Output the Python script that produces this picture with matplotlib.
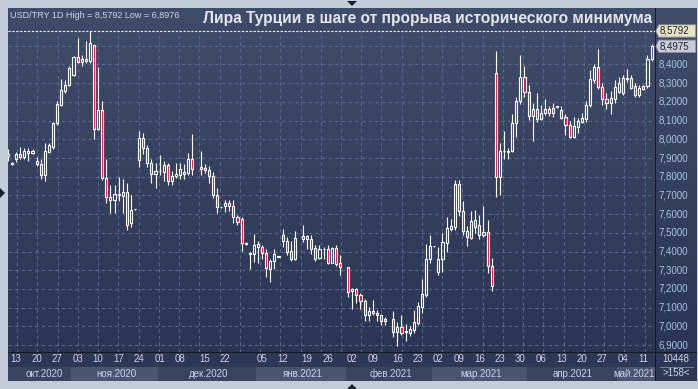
import numpy as np
import matplotlib
matplotlib.use("Agg")
import matplotlib.pyplot as plt
from matplotlib.patches import Polygon, Rectangle

# daily USD/TRY candles, one slot per trading day (None = empty slot)
opens = [7.920, 7.875, 7.893, 7.922, 7.907, 7.936, 7.925, 7.882, 7.868, 7.811,
         7.932, 7.961, 8.086, 8.185, 8.260, 8.289, 8.344, 8.440, 8.414, 8.430,
         8.417, 8.503, 8.053, 8.155, 7.795, 7.693, 7.676, 7.703, 7.697, 7.718,
         7.551, 7.626, 7.888, 8.005, 7.952, 7.872, 7.815, 7.829, 7.825, 7.861,
         7.775, 7.804, 7.811, 7.816, 7.822, 7.893, None, 7.851, 7.847, 7.836,
         7.804, 7.704, 7.636, 7.645, 7.658, 7.643, 7.583, 7.574, 7.442, 7.387,
         7.387, 7.440, 7.422, 7.390, 7.308, 7.348, 7.373, 7.487, 7.455, 7.401,
         7.362, None, 7.469, 7.483, 7.465, 7.419, 7.365, 7.412, 7.412, 7.340,
         7.419, 7.337, None, 7.316, 7.187, 7.198, 7.166, 7.137, 7.059, 7.080,
         7.070, 7.059, 7.027, None, 7.037, 6.995, 6.995, 6.970, 6.966, 6.980,
         7.020, 7.105, 7.166, 7.358, 7.428, 7.291, 7.358, 7.448, 7.522, 7.533,
         7.759, 7.615, 7.508, 7.472, 7.569, 7.540, 7.490, 7.504, 7.323, 8.357,
         7.800, 7.936, 7.932, 7.939, 8.089, 8.207, 8.335, 8.253, 8.125, 8.164,
         8.111, 8.143, 8.160, 8.139, 8.171, 8.157, 8.118, 8.078, 8.014, 8.068,
         8.093, 8.111, 8.182, 8.317, 8.389, 8.282, 8.217, 8.196, 8.217, 8.299,
         8.250, 8.324, 8.328, 8.285, 8.239, 8.271, 8.285, 8.431]
highs = [7.947, 7.878, 7.932, 7.957, 7.955, 7.955, 7.947, 7.907, 7.893, 7.979,
         7.979, 8.093, 8.203, 8.324, 8.317, 8.392, 8.446, 8.542, 8.449, 8.524,
         8.5792, 8.503, 8.385, 8.203, 7.897, 7.758, 7.758, 7.799, 7.786, 7.765,
         7.704, 7.628, 8.043, 8.036, 7.971, 7.897, 7.872, 7.914, 7.884, 7.872,
         7.832, 7.872, 7.872, 7.868, 7.929, 8.029, None, 7.936, 7.868, 7.857,
         7.825, 7.740, 7.638, 7.676, 7.676, 7.676, 7.595, 7.586, 7.451, 7.399,
         7.494, 7.455, 7.433, 7.412, 7.362, 7.412, 7.375, 7.519, 7.476, 7.455,
         7.508, None, 7.540, 7.487, 7.487, 7.433, 7.433, 7.426, 7.433, 7.422,
         7.433, 7.383, None, 7.319, 7.203, 7.205, 7.180, 7.148, 7.102, 7.141,
         7.087, 7.066, 7.052, None, 7.080, 7.023, 7.059, 7.012, 7.002, 7.087,
         7.132, 7.251, 7.440, 7.487, 7.430, 7.426, 7.497, 7.583, 7.576, 7.783,
         7.783, 7.672, 7.537, 7.615, 7.622, 7.594, 7.643, 7.569, 7.365, 8.471,
         7.979, 8.043, 7.954, 8.135, 8.225, 8.449, 8.392, 8.289, 8.193, 8.246,
         8.185, 8.214, 8.178, 8.193, 8.180, 8.178, 8.135, 8.096, 8.118, 8.114,
         8.139, 8.203, 8.371, 8.403, 8.481, 8.299, 8.246, 8.257, 8.317, 8.335,
         8.346, 8.374, 8.346, 8.303, 8.292, 8.292, 8.449, 8.510]
lows = [7.884, 7.862, 7.879, 7.897, 7.897, 7.886, 7.922, 7.857, 7.790, 7.779,
        7.929, 7.950, 8.078, 8.178, 8.250, 8.285, 8.339, 8.406, 8.392, 8.410,
        8.410, 8.000, 8.050, 7.783, 7.661, 7.604, 7.608, 7.668, 7.604, 7.515,
        7.533, 7.624, 7.854, 7.922, 7.854, 7.768, 7.740, 7.807, 7.775, 7.754,
        7.754, 7.793, 7.790, 7.786, 7.811, 7.811, None, 7.807, 7.818, 7.765,
        7.686, 7.608, 7.634, 7.613, 7.618, 7.551, 7.542, 7.405, 7.433, 7.308,
        7.344, 7.340, 7.358, 7.266, 7.237, 7.308, 7.371, 7.426, 7.383, 7.351,
        7.355, None, 7.451, 7.412, 7.387, 7.348, 7.358, 7.362, 7.333, 7.337,
        7.323, 7.276, None, 7.155, 7.091, 7.127, 7.094, 7.030, 7.030, 7.059,
        7.030, 7.009, 7.009, None, 6.945, 6.8976, 6.952, 6.923, 6.948, 6.963,
        7.009, 7.073, 7.159, 7.337, 7.426, 7.276, 7.291, 7.398, 7.512, 7.515,
        7.590, 7.490, 7.430, 7.465, 7.497, 7.465, 7.479, 7.287, 7.191, 7.693,
        7.701, 7.893, 7.897, 7.932, 8.014, 8.189, 8.225, 8.103, 7.989, 8.093,
        8.103, 8.128, 8.125, 8.121, 8.170, 8.107, 8.025, 8.007, 8.007, 8.032,
        8.086, 8.093, 8.175, 8.299, 8.271, 8.182, 8.160, 8.135, 8.196, 8.246,
        8.239, 8.307, 8.267, 8.225, 8.225, 8.264, 8.275, 8.420]
closes = [7.910, 7.868, 7.920, 7.907, 7.936, 7.925, 7.936, 7.868, 7.811, 7.936,
          7.968, 8.086, 8.187, 8.264, 8.289, 8.381, 8.440, 8.414, 8.430, 8.417,
          8.513, 8.053, 8.155, 7.795, 7.693, 7.676, 7.706, 7.706, 7.718, 7.544,
          7.622, 7.626, 8.005, 7.952, 7.872, 7.813, 7.829, 7.829, 7.861, 7.775,
          7.804, 7.816, 7.843, 7.825, 7.893, 7.840, None, 7.843, 7.836, 7.804,
          7.704, 7.636, 7.636, 7.658, 7.643, 7.583, 7.556, 7.444, 7.440, 7.387,
          7.433, 7.422, 7.390, 7.310, 7.348, 7.385, 7.373, 7.455, 7.398, 7.362,
          7.472, None, 7.483, 7.465, 7.415, 7.362, 7.412, 7.412, 7.340, 7.419,
          7.333, 7.316, None, 7.185, 7.198, 7.166, 7.137, 7.062, 7.080, 7.070,
          7.059, 7.027, 7.037, None, 6.970, 6.970, 6.966, 6.970, 6.984, 7.023,
          7.109, 7.173, 7.358, 7.430, 7.428, 7.358, 7.451, 7.526, 7.537, 7.759,
          7.615, 7.508, 7.476, 7.561, 7.533, 7.490, 7.504, 7.323, 7.216, 7.800,
          7.936, 7.936, 7.939, 8.089, 8.207, 8.335, 8.253, 8.125, 8.160, 8.111,
          8.143, 8.160, 8.139, 8.168, 8.178, 8.114, 8.078, 8.014, 8.071, 8.096,
          8.114, 8.185, 8.321, 8.385, 8.282, 8.217, 8.196, 8.221, 8.278, 8.253,
          8.328, 8.328, 8.275, 8.235, 8.275, 8.285, 8.431, 8.4975]

grid_prices = [6.9, 7.0, 7.1, 7.2, 7.3, 7.4, 7.5, 7.6, 7.7, 7.8, 7.9, 8.0, 8.1,
               8.2, 8.3, 8.4, 8.5]
price_labels = [6.9, 7.0, 7.1, 7.2, 7.3, 7.4, 7.5, 7.6, 7.7, 7.8, 7.9, 8.0, 8.1,
                8.2, 8.3, 8.4]
day_slots = [1, 6, 11, 16, 21, 26, 31, 36, 41, 47, 52, 61, 66, 72, 77, 83, 88,
             94, 99, 104, 109, 114, 119, 124, 129, 134, 139, 144, 149, 154]
day_labels = ["13", "20", "27", "03", "10", "17", "24", "01", "08", "15", "22",
              "05", "12", "19", "26", "02", "09", "16", "23", "02", "09", "16",
              "23", "30", "06", "13", "20", "27", "04", "11"]
month_starts = [-10, 14.5, 35.5, 59.5, 81.5, 102.5, 125.5, 147.5, 170]
month_centers = [7.8, 25.5, 48.0, 71.0, 92.5, 114.5, 136.8, 151.8]
month_labels = ["окт.2020", "ноя.2020", "дек.2020", "янв.2021", "фев.2021",
                "мар.2021", "апр.2021", "май.2021"]
high_val, low_val, last_val = 8.5792, 6.8976, 8.4975

W, H = 698, 389
FIRST = -1  # slot index of first candle
XL = (-0.976, 156.83)
YL = (6.863, 8.702)

RED = "#e3103b"
TXT = "#c9d3e6"
GRID = "#58678a"

plt.rcParams["font.family"] = ["Liberation Sans", "DejaVu Sans"]


def px_axes(fig, x0, y0, x1, y1, **kw):
  return fig.add_axes([x0 / W, 1 - y1 / H, (x1 - x0) / W, (y1 - y0) / H], **kw)


def bare(ax):
  ax.set_xticks([])
  ax.set_yticks([])
  for s in ax.spines.values():
    s.set_visible(False)


def fmt(v):
  return f"{v:.4f}".replace(".", ",")


def main():
  fig = plt.figure(figsize=(W / 100, H / 100), dpi=100, facecolor="#c3ccd9")

  # gradient panel behind plot + price scale
  bg = px_axes(fig, 8, 8, 697, 352)
  grad = np.linspace(0, 1, 256)[:, None]
  top = np.array([0x40, 0x4d, 0x6a]) / 255
  bot = np.array([0x2b, 0x35, 0x55]) / 255
  img = top * (1 - grad[..., None]) + bot * grad[..., None]
  bg.imshow(img, aspect="auto", extent=(0, 1, 0, 1), origin="upper")
  bg.set_axis_off()

  ax = px_axes(fig, 8, 8, 655, 352)
  ax.patch.set_alpha(0)
  ax.set_xlim(*XL)
  ax.set_ylim(*YL)
  bare(ax)

  # grid
  for v in grid_prices:
    ax.axhline(v, color=GRID, lw=0.8, ls=(0, (3, 3)), zorder=1)
  grid_x = 1.22 + 4.939 * np.arange(32)
  ax.vlines(grid_x, YL[0], high_val, color=GRID, lw=0.8, ls=(0, (3, 3)), zorder=1)
  ax.axhline(high_val, color="white", lw=0.8, ls=(0, (2, 1.5)), zorder=2)

  # candles
  for i, (o, h, l, c) in enumerate(zip(opens, highs, lows, closes)):
    if o is None:
      continue
    x = FIRST + i
    lo_b, hi_b = min(o, c), max(o, c)
    ax.vlines(x, hi_b, h, color="white", lw=0.8, zorder=3)
    ax.vlines(x, l, lo_b, color="white", lw=0.8, zorder=3)
    fill = RED if c < o else "none"
    ax.add_patch(Rectangle((x - 0.25, lo_b), 0.5, max(hi_b - lo_b, 0.004),
                           facecolor=fill, edgecolor="white", lw=0.8, zorder=4))

  # headers
  fig.text(10 / W, 1 - 15 / H, "USD/TRY 1D High = %s Low = %s" % (fmt(high_val), fmt(low_val)),
           color=TXT, fontsize=6.5, va="center", ha="left")
  fig.text(652 / W, 1 - 19 / H, "Лира Турции в шаге от прорыва исторического минимума",
           color="#e4e6ee", fontsize=11.2, fontweight="bold", va="center", ha="right")

  # price scale
  pax = px_axes(fig, 655, 8, 697, 352)
  pax.patch.set_alpha(0)
  pax.set_xlim(0, 1)
  pax.set_ylim(*YL)
  pax.set_axis_off()
  pax.axvline(0, color="#10141e", lw=1.2)
  for v in price_labels:
    pax.text(0.08, v, fmt(v), color="#a9c1e4", fontsize=7, va="center", ha="left")
  for v, fc in [(high_val, "#e6e2c4"), (last_val, "#c9ccd9")]:
    h = 0.033
    pax.add_patch(Polygon([(0.02, v), (0.09, v + h), (0.97, v + h), (0.97, v - h),
                           (0.09, v - h)], closed=True, facecolor=fc,
                          edgecolor="#8d8f99", lw=0.6, zorder=5, clip_on=False))
    pax.text(0.1, v, fmt(v), color="#20242e", fontsize=7, va="center", ha="left", zorder=6)

  # date axis
  dax = px_axes(fig, 8, 352, 655, 381)
  dax.set_xlim(*XL)
  dax.set_ylim(0, 2)
  dax.set_facecolor("#2d3756")
  bare(dax)
  dax.axhline(2, color="#10141e", lw=1.2)
  for j, name in enumerate(month_labels):
    dax.axvspan(month_starts[j], month_starts[j + 1], 0, 0.5,
                color="#4a5571" if j % 2 else "#394460", lw=0)
    dax.text(month_centers[j], 0.5, name, color=TXT, fontsize=7, ha="center", va="center")
  for k, lab in zip(day_slots, day_labels):
    dax.text(k, 1.5, lab, color=TXT, fontsize=7, ha="center", va="center")

  # bottom right corner box
  cax = px_axes(fig, 655, 352, 697, 381)
  cax.set_facecolor("#2d3756")
  cax.set_xlim(0, 1)
  cax.set_ylim(0, 1)
  bare(cax)
  cax.axvline(0, color="#10141e", lw=1.2)
  cax.axhline(1, color="#10141e", lw=1.2)
  cax.plot([0.12, 0.9], [0.5, 0.5], color="#8090b0", lw=0.6)
  cax.text(0.5, 0.75, "10448", color=TXT, fontsize=7, ha="center", va="center")
  cax.text(0.5, 0.27, ">158<", color=TXT, fontsize=7, ha="center", va="center")

  # small scroll markers
  def tri(pts):
    fig.patches.append(Polygon([(x / W, 1 - y / H) for x, y in pts], closed=True,
                               transform=fig.transFigure, facecolor="#1b2030",
                               edgecolor="none"))
  tri([(347, 1), (357, 1), (352, 6)])
  tri([(347, 389), (357, 389), (352, 384)])
  tri([(0, 188), (0, 198), (5, 193)])

  fig.savefig("out.png", dpi=100, facecolor=fig.get_facecolor())


if __name__ == "__main__":
  main()
